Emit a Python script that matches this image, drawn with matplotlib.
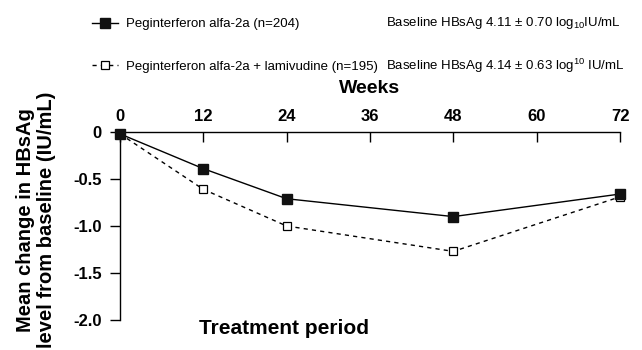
import matplotlib
matplotlib.use("Agg")
import matplotlib.pyplot as plt

plt.rcParams['font.family'] = ['Liberation Sans', 'DejaVu Sans']
plt.rcParams['mathtext.default'] = 'regular'

weeks = [0, 12, 24, 48, 72]
peg_mono = [-0.02, -0.39, -0.71, -0.90, -0.66]
peg_lam = [-0.02, -0.61, -1.00, -1.27, -0.69]

x_ticks = [0, 12, 24, 36, 48, 60, 72]
y_ticks = [0, -0.5, -1.0, -1.5, -2.0]
y_tick_labels = ['0', '-0.5', '-1.0', '-1.5', '-2.0']

label_mono = 'Peginterferon alfa-2a (n=204)'
label_lam = 'Peginterferon alfa-2a + lamivudine (n=195)'
baseline_mono = 'Baseline HBsAg 4.11 ± 0.70 log$_{10}$IU/mL'
baseline_lam = 'Baseline HBsAg 4.14 ± 0.63 log$^{10}$ IU/mL'

fig = plt.figure(figsize=(6.42, 3.5), dpi=100)
ax = fig.add_axes([120 / 642, 1 - 320 / 350, 500 / 642, 188 / 350])

ax.plot(weeks, peg_mono, '-', color='black', lw=1.0, marker='s', ms=6.5,
        mfc='#111111', mec='#111111', clip_on=False, label=label_mono, zorder=4)
ax.plot(weeks, peg_lam, '--', color='black', lw=1.0, dashes=(3, 3), marker='s', ms=5.5,
        mfc='white', mec='black', mew=0.9, clip_on=False, label=label_lam, zorder=3)

ax.set_xlim(0, 72)
ax.set_ylim(-2.0, 0)
ax.spines['right'].set_visible(False)
ax.spines['bottom'].set_visible(False)
ax.spines['top'].set_linewidth(1.0)
ax.spines['left'].set_linewidth(1.0)

ax.xaxis.tick_top()
ax.xaxis.set_label_position('top')
ax.set_xticks(x_ticks)
ax.set_xticklabels([str(w) for w in x_ticks], fontweight='bold', fontsize=12)
ax.tick_params(axis='x', direction='in', length=7, width=1, pad=6)
ax.set_xlabel('Weeks', fontweight='bold', fontsize=14, labelpad=11)

ax.set_yticks(y_ticks)
ax.set_yticklabels(y_tick_labels, fontweight='bold', fontsize=12)
ax.tick_params(axis='y', direction='out', length=7, width=1, pad=6)

fig.text(36 / 642, 1 - 220 / 350, 'Mean change in HBsAg\nlevel from baseline (IU/mL)',
         rotation=90, ha='center', va='center', multialignment='center',
         fontweight='bold', fontsize=14.5, linespacing=1.1)

fig.text(284 / 642, 1 - 328 / 350, 'Treatment period', ha='center', va='center',
         fontweight='bold', fontsize=15)

leg = fig.legend(loc='upper left', bbox_to_anchor=(92 / 642, 1 - 18 / 350), frameon=False,
                 fontsize=9.5, labelspacing=2.3, handlelength=2.0, handletextpad=0.55,
                 borderaxespad=0, borderpad=0)

fig.text(386 / 642, 1 - 23 / 350, baseline_mono, ha='left', va='center', fontsize=9.5)
fig.text(386 / 642, 1 - 66 / 350, baseline_lam, ha='left', va='center', fontsize=9.5)

fig.savefig('out.png', dpi=100)
